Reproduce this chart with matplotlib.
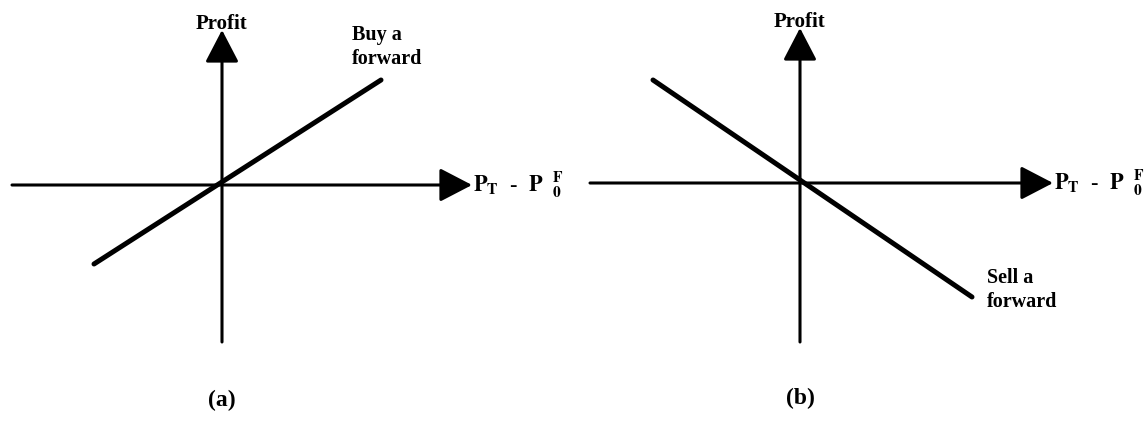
import matplotlib.pyplot as plt

plt.rcParams['font.family'] = ['Liberation Serif', 'DejaVu Serif']
plt.rcParams['mathtext.fontset'] = 'stix'

# payoff lines (x = P_T - P_0^F, y = profit), arbitrary units
buy_x = [-2.56, 3.18]
buy_profit = [-1.58, 2.1]
sell_x = [-2.94, 3.44]
sell_profit = [2.06, -2.28]

panels = [
    dict(x=buy_x, y=buy_profit, label='Buy a\nforward', label_xy=(2.6, 2.76),
         tag='(a)', xlim=(-4.44, 7.0), ylim=(-4.74, 3.7), hspan=(-4.2, 5.0), vspan=(-3.14, 3.1)),
    dict(x=sell_x, y=sell_profit, label='Sell a\nforward', label_xy=(3.74, -2.14),
         tag='(b)', xlim=(-4.56, 6.88), ylim=(-4.78, 3.66), hspan=(-4.2, 5.06), vspan=(-3.18, 3.1)),
]

fig = plt.figure(figsize=(11.44, 4.22), dpi=100)

for i, p in enumerate(panels):
    ax = fig.add_axes([0.5 * i, 0, 0.5, 1])
    ax.set_xlim(*p['xlim'])
    ax.set_ylim(*p['ylim'])
    ax.axis('off')

    arrow = dict(arrowstyle='-|>,head_length=1.0,head_width=0.52', lw=2.2,
                 color='black', shrinkA=0, shrinkB=0, mutation_scale=20)
    ax.annotate('', xy=(p['hspan'][1], 0), xytext=(p['hspan'][0], 0), arrowprops=arrow)
    ax.annotate('', xy=(0, p['vspan'][1]), xytext=(0, p['vspan'][0]), arrowprops=arrow)

    ax.plot(p['x'], p['y'], color='black', lw=3.6, solid_capstyle='round')

    ax.text(0, p['vspan'][1] - 0.08, 'Profit', ha='center', va='bottom',
            fontsize=15, fontweight='bold')
    ax.text(p['hspan'][1] + 0.02, 0, r'$\mathbf{P_T}$  -  $\mathbf{P\ \ _0^F}$', ha='left',
            va='center', fontsize=16, fontweight='bold')
    ax.text(*p['label_xy'], p['label'], ha='left', va='center', fontsize=14.5,
            fontweight='bold', linespacing=1.3)
    ax.text(0, -4.3, p['tag'], ha='center', va='center', fontsize=17, fontweight='bold')

fig.savefig('out.png', dpi=100)
